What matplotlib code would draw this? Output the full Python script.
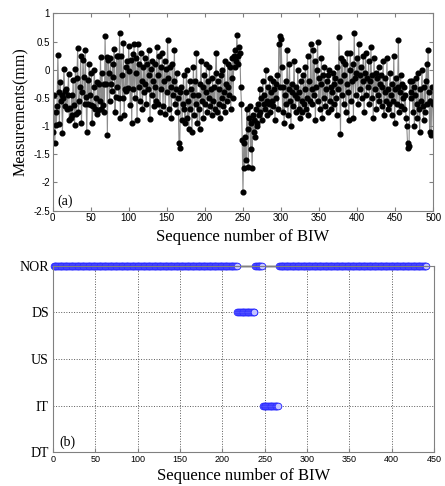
import numpy as np
import matplotlib
matplotlib.use('Agg')
import matplotlib.pyplot as plt

measurements = [
    -1.10, -0.45, -1.30, -0.75, -0.98, -0.65, 0.27, -0.40, -0.97, -0.22,
    -0.55, -0.45, -1.13, -0.50, 0.01, -0.38, -0.65, -0.35, -0.70, -0.45,
    -0.08, -0.90, -0.67, -0.85, -0.45, -0.80, -0.18, -0.62, -0.98, 0.01,
    -0.78, -0.15, 0.38, -0.75, -0.55, -0.30, 0.25, -0.95, -0.40, 0.18,
    -0.12, -0.60, 0.35, -0.48, -1.11, -0.18, -0.60, 0.10, -0.44, -0.62,
    -0.05, -0.95, -0.65, -0.30, 0.00, -0.70, -0.50, -0.78, -0.22, -0.72,
    -0.25, -0.55, 0.22, -0.70, -0.05, -0.62, -0.25, -0.75, 0.60, -0.25,
    0.22, -1.15, 0.18, -0.05, -0.55, 0.20, -0.25, -0.38, 0.10, -0.12,
    0.36, -0.75, -0.48, 0.25, -0.30, 0.25, -0.50, 0.65, -0.85, 0.25,
    -0.10, -0.50, 0.48, -0.80, -0.35, 0.05, -0.38, 0.15, -0.33, 0.42,
    -0.02, -0.62, 0.18, -0.95, 0.28, -0.35, 0.46, -0.50, 0.20, -0.05,
    -0.90, 0.45, -0.30, 0.10, -0.55, 0.30, -0.20, -0.70, 0.05, -0.40,
    0.20, -0.25, -0.60, 0.10, -0.35, 0.35, -0.10, -0.88, 0.02, -0.45,
    0.15, -0.20, -0.65, 0.10, -0.30, -0.55, 0.40, -0.60, -0.10, 0.25,
    -0.75, 0.05, -0.35, 0.30, -0.65, -0.20, 0.15, -0.78, 0.02, -0.40,
    0.53, -0.15, -0.70, 0.05, -0.30, -0.85, 0.10, -0.45, -0.20, 0.35,
    -0.60, -0.35, -0.05, -0.75, -0.50, -1.30, -1.39, -0.40, -0.30, -0.90,
    -0.60, -0.10, -0.70, -0.95, -0.40, 0.00, -0.85, -0.55, -1.05, -0.20,
    -0.70, -0.35, -1.10, -0.45, 0.05, -0.80, -0.20, -0.60, 0.30, -0.95,
    -0.45, -0.70, -1.05, -0.25, 0.15, -0.55, -0.30, -0.85, -0.10, -0.60,
    -0.40, 0.10, -0.75, -0.20, -0.50, 0.05, -0.65, -0.35, -0.80, -0.15,
    -0.55, -0.30, -0.70, -0.05, 0.30, -0.75, -0.20, -0.60, -0.35, -0.85,
    -0.10, -0.50, 0.00, -0.65, -0.40, 0.15, -0.75, -0.25, -0.55, 0.10,
    -0.30, -0.45, 0.05, -0.70, -0.15, 0.20, -0.50, 0.25, 0.05, 0.35,
    0.15, 0.61, 0.25, 0.10, 0.40, 0.30, -0.30, -0.60, -1.25, -2.17,
    -1.30, -1.75, -1.20, -1.60, -0.70, -1.05, -1.72, -0.85, -0.65, -1.40,
    -0.95, -1.75, -0.80, -1.10, -0.90, -1.20, -0.70, -1.00, -0.95, -0.60,
    -0.80, -0.35, -0.75, -0.50, -0.90, -0.20, -0.60, -0.45, -0.70, 0.00,
    -0.55, -0.80, -0.30, -0.60, -0.15, -0.75, -0.40, -0.55, -0.20, -0.65,
    -0.35, -0.90, -0.25, -0.50, -0.10, -0.70, 0.45, 0.60, -0.30, 0.55,
    0.05, -0.75, -0.30, -0.95, -0.45, -0.20, -0.60, 0.35, -0.80, -0.35,
    0.10, -0.55, -1.00, -0.40, -0.25, -0.65, 0.15, -0.45, -0.75, -0.30,
    -0.50, 0.00, -0.70, -0.40, -0.85, -0.20, -0.55, -0.75, -0.10, -0.60,
    -0.35, 0.05, -0.70, -0.50, 0.25, -0.80, -0.20, -0.55, 0.45, -0.35,
    -0.60, 0.35, -0.45, 0.15, -0.90, -0.30, 0.00, 0.50, -0.55, -0.15,
    -0.70, -0.25, 0.20, -0.85, -0.10, -0.50, 0.05, -0.65, -0.35, -0.20,
    -0.75, -0.10, 0.00, -0.55, -0.30, -0.70, -0.40, -0.05, -0.60, -0.25,
    -0.15, -0.50, -0.80, 0.05, -0.35, 0.58, -0.20, -1.14, 0.20, -0.45,
    0.15, -0.60, -0.10, 0.10, -0.75, -0.25, 0.30, -0.40, -0.90, 0.00,
    0.30, -0.55, -0.20, 0.10, -0.85, 0.65, -0.15, -0.45, -0.05, 0.20,
    -0.60, 0.45, -0.10, -0.35, 0.05, -0.50, -0.20, 0.25, -0.75, -0.05,
    0.30, -0.45, -0.15, -0.30, 0.15, -0.60, -0.20, 0.40, -0.50, -0.10,
    -0.85, 0.20, -0.35, -0.05, -0.70, -0.15, -0.45, 0.05, -0.55, -0.25,
    -0.10, -0.65, -0.30, 0.15, -0.80, -0.40, -0.15, -0.55, 0.20, -0.70,
    -0.35, -0.60, -0.05, -0.45, -0.80, -0.25, -0.55, 0.25, -0.95, -0.35,
    -0.15, -0.60, -0.30, 0.53, -0.75, -0.40, -0.10, -0.65, -0.25, -0.50,
    -0.30, -0.70, -0.45, -0.85, -1.00, -1.30, -1.39, -1.35, -0.20, -0.40,
    -0.50, -0.20, -0.75, -0.30, -1.00, -0.45, -0.15, -0.60, -0.85, -0.05,
    -0.70, -1.10, -0.35, -0.55, 0.00, -0.65, -0.90, -0.30, -0.75, -0.20,
    0.10, -0.60, 0.35, -0.40, -1.10, -0.55, -1.15, -0.30, -0.60, -1.12,
]

# recognised states (b): runs of (state, first sample, last sample)
state_names = ['DT', 'IT', 'US', 'DS', 'NOR']
run_states = ['NOR', 'DS', 'NOR', 'IT', 'NOR']
run_first = [1, 218, 239, 248, 267]
run_last = [217, 238, 247, 266, 441]

serif = 'Liberation Serif'
sans = 'Liberation Sans'

fig = plt.figure(figsize=(4.45, 4.86), dpi=100)

# ---- (a) measurements
ax1 = fig.add_axes([0.118, 0.5665, 0.856, 0.406])
x = np.arange(1, len(measurements) + 1)
ax1.plot(x, measurements, color='0.55', lw=0.8, zorder=1)
ax1.plot(x, measurements, 'o', color='black', ms=3.4, zorder=2)
ax1.set_xlim(0, 500)
ax1.set_ylim(-2.5, 1)
ax1.set_xticks(np.arange(0, 501, 50))
ax1.set_yticks(np.arange(-2.5, 1.01, 0.5))
ax1.set_yticklabels(['-2.5', '-2', '-1.5', '-1', '-0.5', '0', '0.5', '1'])
ax1.set_xlabel('Sequence number of BIW', fontfamily=serif, fontsize=12, labelpad=4)
ax1.set_ylabel('Measurements(mm)', fontfamily=serif, fontsize=11.5, labelpad=3)
ax1.text(7, -2.34, '(a)', fontfamily=serif, fontsize=10, va='center')

# ---- (b) states
ax2 = fig.add_axes([0.119, 0.069, 0.856, 0.3843])
ypos = {s: i for i, s in enumerate(state_names)}
for s in state_names:
    xs = []
    for st, a, b in zip(run_states, run_first, run_last):
        if st == s:
            xs.extend(range(a, b + 1))
    if not xs:
        continue
    ys = [ypos[s]] * len(xs)
    ax2.plot(xs, ys, color='#c0c0c0', lw=2, zorder=1, clip_on=False)
    ax2.plot(xs, ys, 'o', mfc='#c4c4ff', mec='#2020ff', mew=0.6, ms=4.8,
             ls='none', zorder=2, clip_on=False)
ax2.set_xlim(0, 450)
ax2.set_ylim(0, 4)
ax2.set_xticks(np.arange(0, 451, 50))
ax2.set_yticks(range(len(state_names)))
ax2.set_yticklabels(state_names, fontfamily=serif, fontsize=10)
ax2.grid(True, ls=':', color='0.35', lw=0.7)
ax2.set_xlabel('Sequence number of BIW', fontfamily=serif, fontsize=12, labelpad=3)
ax2.text(7, 0.21, '(b)', fontfamily=serif, fontsize=10, va='center')

for ax in (ax1, ax2):
    for sp in ax.spines.values():
        sp.set_color('0.5')
    ax.tick_params(direction='in', top=True, right=True, length=3,
                   color='0.5', labelsize=7, pad=2)
    for lab in ax.get_xticklabels():
        lab.set_fontfamily(sans)
for lab in ax1.get_yticklabels():
    lab.set_fontfamily(sans)
ax2.tick_params(axis='y', length=0, labelsize=10, pad=3)
ax2.tick_params(axis='x', labelsize=6.5)

fig.savefig('out.png', dpi=100)
